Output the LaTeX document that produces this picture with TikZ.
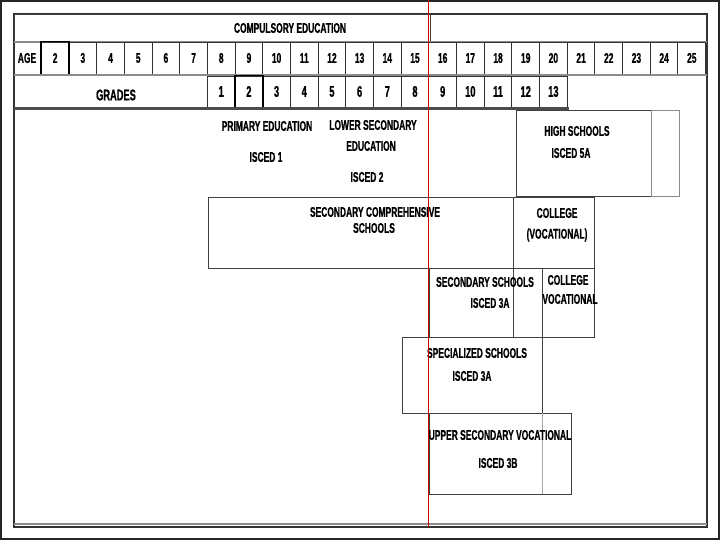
\documentclass[tikz,border=0pt]{standalone}
\usepackage{fontspec}
\setmainfont{Liberation Sans}[FakeStretch=0.6, FakeBold=0.8]
\usetikzlibrary{positioning}

\begin{document}
\begin{tikzpicture}[
    x=0.025cm, y=-0.025cm,
    every node/.style={font=\fontsize{10}{12}\selectfont\bfseries},
    lbl/.style={inner sep=0pt},
    cell/.style={draw=black!80, line width=0.7pt, inner sep=0pt, minimum width=0.692cm, minimum height=0.8cm},
    gcell/.style={cell, minimum height=0.775cm, font=\fontsize{11}{12}\selectfont\bfseries},
    box/.style={draw=black!75, line width=0.7pt},
    rowline/.style={draw=black!45, line width=2pt},
    frame/.style={draw=black!80, line width=0.8pt}
]
\useasboundingbox (0,0) rectangle (720,540);
\draw[line width=1.2pt, black!85] (1,1) rectangle (719,539);
% outer frame of the chart
\draw[frame] (14,14) rectangle (707,527);
\draw[rowline] (14,524) -- (707,524);
% compulsory education bar
\draw[box] (14,14) rectangle (430,42);
\node[lbl] (compulsory) at (290,28) {COMPULSORY EDUCATION};
% age row
\draw[rowline] (14,42) -- (707,42);
\node[lbl] (agelbl) at (27,58) {AGE};
\foreach \a [count=\i from 0] in {2,...,25}
  \node[cell] (age\a) at (55.14+27.68*\i, 58) {\a};
\draw[line width=1.4pt] (age2.north west) rectangle (age2.south east);
% grades row
\draw[rowline] (14,75) -- (707,75);
\node[lbl, font=\fontsize{11}{12}\selectfont\bfseries] (gradelbl) at (116,95) {GRADES};
\foreach \g in {1,...,13}
  \node[gcell] (grade\g) at (41.3+27.68*\g+138.4+13.84, 91.5) {\g};
\draw[line width=1.4pt] (grade2.north west) rectangle (grade2.south east);
\draw[draw=black!70, line width=2pt] (14,108.5) -- (569,108.5);
% primary and lower secondary
\node[lbl] (primary) at (267,126) {PRIMARY EDUCATION};
\node[lbl] (isced1) at (266,157) {ISCED 1};
\node[lbl] (lowsec) at (373,125) {LOWER SECONDARY};
\node[lbl] (lowsecb) at (371,146) {EDUCATION};
\node[lbl] (isced2) at (367,177) {ISCED 2};
% high schools
\draw[box] (516,110) rectangle (651,196);
\draw[box, draw=black!45] (651,110) rectangle (679,196);
\node[lbl] (high) at (577,131) {HIGH SCHOOLS};
\node[lbl] (isced5a) at (571,153) {ISCED 5A};
% comprehensive schools and college
\draw[box] (208,197) rectangle (513,268);
\node[lbl] (comp) at (375,212) {SECONDARY COMPREHENSIVE};
\node[lbl] (compb) at (374,228) {SCHOOLS};
\draw[box] (513,197) rectangle (594,268);
\node[lbl] (college) at (557,213) {COLLEGE};
\node[lbl] (collegeb) at (557,235) {(VOCATIONAL)};
% secondary schools and college vocational
\draw[box] (429,268) rectangle (542,337);
\draw[box] (513,268) -- (513,337);
\node[lbl] (secsch) at (485,282) {SECONDARY SCHOOLS};
\node[lbl] (isced3a) at (490,303) {ISCED 3A};
\draw[box] (542,268) rectangle (594,337);
\node[lbl] (colvoc) at (568,280) {COLLEGE};
\node[lbl] (colvocb) at (570,299) {VOCATIONAL};
% specialized schools
\draw[box] (402,337) rectangle (542,413);
\node[lbl] (spec) at (477,353) {SPECIALIZED SCHOOLS};
\node[lbl] (specisced) at (472,376) {ISCED 3A};
% upper secondary vocational
\draw[box] (429,413) rectangle (571,494);
\draw[draw=black!35, line width=0.7pt] (542,413) -- (542,494);
\node[lbl] (upper) at (500,435) {UPPER SECONDARY VOCATIONAL};
\node[lbl] (isced3b) at (498,463) {ISCED 3B};
% age 16 marker
\draw[red!80!black, line width=0.6pt] (428,0) -- (428,527);
\end{tikzpicture}
\end{document}
